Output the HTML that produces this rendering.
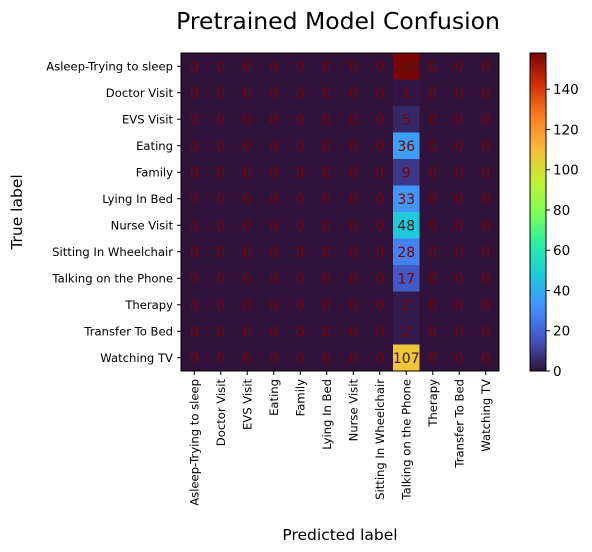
<!DOCTYPE html>
<html><head><meta charset="utf-8">
<style>
html,body{margin:0;padding:0;background:#fff;}
svg{display:block;font-family:"DejaVu Sans","Liberation Sans",sans-serif;}
</style></head>
<body>
<svg id="chart" width="592" height="552" viewBox="0 0 592 552">
<text x="338" y="29" font-size="23.5" text-anchor="middle" fill="#000">Pretrained Model Confusion</text>
<text x="340" y="540" font-size="15.5" text-anchor="middle" fill="#000">Predicted label</text>
<text transform="translate(22,212) rotate(-90)" font-size="15.5" text-anchor="middle" fill="#000">True label</text>
<g id="cells"></g>
<g id="cbar"></g>
</svg>
<script>
const labels = ["Asleep-Trying to sleep","Doctor Visit","EVS Visit","Eating","Family","Lying In Bed","Nurse Visit","Sitting In Wheelchair","Talking on the Phone","Therapy","Transfer To Bed","Watching TV"];
const predictedColumn = 8;
const columnValues = [158,1,5,36,9,33,48,28,17,2,2,107];
const colorbarTicks = [0,20,40,60,80,100,120,140];
const vmax = 158;

const NS = "http://www.w3.org/2000/svg";
const svg = document.getElementById("chart");
const X0 = 181, Y0 = 53, W = 318, H = 318;
const n = labels.length, cw = W / n, ch = H / n;
const xPos = i => X0 + i * cw;
const yPos = i => Y0 + i * ch;
const stops = ["#30123b","#4454c4","#4490fe","#1fc8de","#29efa2","#7eff55","#c3f134","#f9ba38","#fb7e21","#d23105","#7a0403"];
function hex(h){return [1,3,5].map(i=>parseInt(h.substr(i,2),16));}
function turbo(t){
  t = Math.max(0, Math.min(1, t));
  const p = t * 10, i = Math.min(9, Math.floor(p)), f = p - i;
  const a = hex(stops[i]), b = hex(stops[i+1]);
  const c = a.map((v,k)=>Math.round(v + (b[k]-v)*f));
  return `rgb(${c[0]},${c[1]},${c[2]})`;
}
function mk(tag, attrs, parent){
  const e = document.createElementNS(NS, tag);
  for (const k in attrs) e.setAttribute(k, attrs[k]);
  (parent || svg).appendChild(e);
  return e;
}
const cells = document.getElementById("cells");
for (let r = 0; r < n; r++){
  for (let c = 0; c < n; c++){
    const v = c === predictedColumn ? columnValues[r] : 0;
    const rect = mk("rect", {x: xPos(c), y: yPos(r), width: cw + 0.5, height: ch + 0.5, fill: turbo(v / vmax)}, cells);
    
    
    const col = v >= 130 ? "#4a1a1a" : (v > 40 ? "#3a1a10" : "#7a0403");
    const t = mk("text", {x: xPos(c) + cw / 2, y: yPos(r) + ch / 2 + 5, "font-size": 14, "text-anchor": "middle", fill: col}, cells);
    t.textContent = v;
    
    
  }
}
mk("rect", {x: X0, y: Y0, width: W, height: H, fill: "none", stroke: "#000", "stroke-width": 1});
for (let i = 0; i < n; i++){
  const yc = yPos(i) + ch / 2;
  mk("line", {x1: X0 - 4, x2: X0, y1: yc, y2: yc, stroke: "#000"});
  const yl = mk("text", {x: X0 - 8, y: yc + 4, "font-size": 11.6, "text-anchor": "end"});
  yl.textContent = labels[i];
  
  
  const xc = xPos(i) + cw / 2;
  mk("line", {x1: xc, x2: xc, y1: Y0 + H, y2: Y0 + H + 4, stroke: "#000"});
  const xl = mk("text", {transform: `translate(${xc + 4},${Y0 + H + 8}) rotate(-90)`, "font-size": 11.6, "text-anchor": "end"});
  xl.textContent = labels[i];
  
  
}
const cb = document.getElementById("cbar");
const CX = 530, CW = 16, CY0 = 53, CH = 318;
const cy = v => CY0 + CH - (v / vmax) * CH;
const grad = mk("linearGradient", {id: "tg", x1: 0, y1: 1, x2: 0, y2: 0}, mk("defs", {}, cb));
for (let i = 0; i <= 40; i++){
  mk("stop", {offset: i / 40, "stop-color": turbo(i / 40)}, grad);
}
const cbr = mk("rect", {x: CX, y: CY0, width: CW, height: CH, fill: "url(#tg)", stroke: "#000", "stroke-width": 1}, cb);


colorbarTicks.forEach(v => {
  mk("line", {x1: CX + CW, x2: CX + CW + 4, y1: cy(v), y2: cy(v), stroke: "#000"}, cb);
  const t = mk("text", {x: CX + CW + 7, y: cy(v) + 5, "font-size": 13.5}, cb);
  t.textContent = v;
  
  
});
</script>
</body></html>
